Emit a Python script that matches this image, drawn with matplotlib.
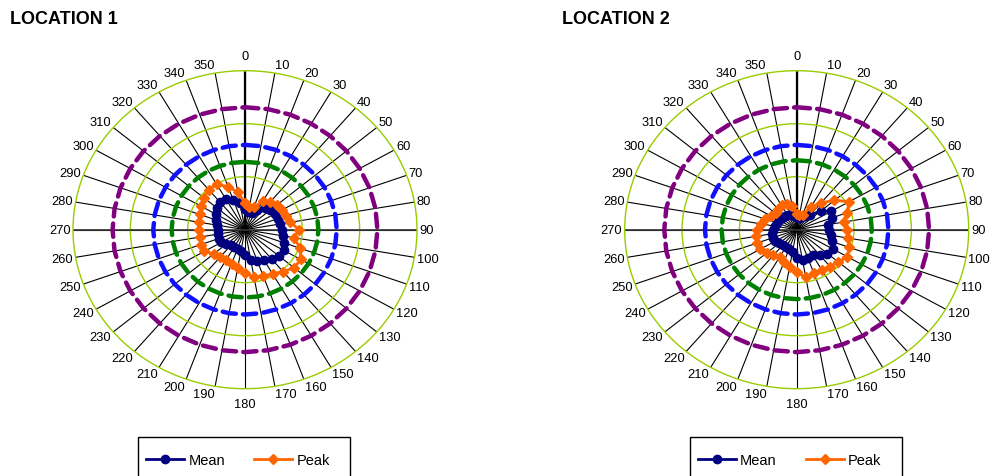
import numpy as np
import matplotlib
matplotlib.use("Agg")
import matplotlib.pyplot as plt
from matplotlib.lines import Line2D
from matplotlib.patches import Rectangle

plt.rcParams['font.family'] = ['Liberation Sans', 'DejaVu Sans']

# ---------------- data ----------------
angles_deg = list(range(0, 360, 10))
angle_labels = [str(a) for a in angles_deg]

titles = ["LOCATION 1", "LOCATION 2"]

mean_loc1 = [4.0, 3.3, 3.4, 4.3, 5.3, 5.8, 6.0, 6.1, 6.2, 6.4, 6.8, 7.3,
             7.8, 7.8, 7.2, 6.6, 6.2, 5.8, 4.7, 4.0, 3.8, 3.7, 3.8, 4.3,
             4.8, 4.9, 4.8, 4.7, 4.9, 5.3, 5.8, 6.4, 6.8, 6.6, 6.0, 5.2]
peak_loc1 = [5.0, 4.3, 4.5, 6.2, 6.8, 7.2, 7.5, 7.6, 8.0, 9.5, 8.6, 10.3,
             11.2, 11.2, 10.3, 9.6, 9.3, 9.1, 8.1, 7.4, 6.8, 6.5, 6.8, 7.1,
             8.2, 8.2, 8.0, 8.1, 8.2, 8.4, 8.9, 9.4, 9.8, 9.9, 8.6, 7.2]

mean_loc2 = [2.4, 2.3, 2.6, 3.0, 3.6, 5.5, 7.0, 6.6, 5.6, 5.7, 6.0, 6.5,
             7.4, 7.0, 6.2, 5.6, 5.6, 5.9, 5.3, 4.2, 3.8, 3.7, 3.8, 4.0,
             4.3, 4.4, 4.4, 4.2, 3.9, 3.6, 3.5, 3.4, 3.3, 3.2, 3.0, 2.7]
peak_loc2 = [3.0, 2.8, 3.0, 5.0, 6.6, 8.6, 10.6, 9.3, 8.3, 8.7, 9.0, 9.8,
             10.2, 9.4, 9.1, 8.8, 8.6, 9.1, 8.0, 7.2, 6.5, 6.0, 6.3, 6.8,
             7.4, 7.3, 7.2, 7.0, 6.3, 5.8, 5.2, 4.8, 5.0, 5.3, 5.2, 4.6]

# constant limit series (dashed rings)
limit_green = [12.8, 13.1]
limit_blue = [16.0, 16.0]
limit_purple = [23.1, 23.1]

r_max = 30
ring_ticks = [10, 20]

# ---------------- style ----------------
C_MEAN = '#000080'
C_PEAK = '#FF6600'
C_GREEN = '#008000'
C_BLUE = '#1010FF'
C_PURPLE = '#800080'
C_RING = '#99CC00'

W, H = 994, 477
fig = plt.figure(figsize=(W / 100, H / 100), dpi=100)

centers_x = [245.0, 796.7]
cy = 230.7
rx, ry = 172.0, 159.0

theta = np.deg2rad(angles_deg + [360])


def closed(v):
    return list(v) + [v[0]]


means = [mean_loc1, mean_loc2]
peaks = [peak_loc1, peak_loc2]
title_x = [10, 562]

for i in range(2):
    cx = centers_x[i]
    rect = [(cx - rx) / W, (H - (cy + ry)) / H, 2 * rx / W, 2 * ry / H]
    ax = fig.add_axes(rect, projection='polar')
    ax.set_aspect('auto')
    ax.set_theta_zero_location('N')
    ax.set_theta_direction(-1)
    ax.set_ylim(0, r_max)
    ax.set_yticks(ring_ticks)
    ax.set_yticklabels([])
    ax.set_thetagrids(angles_deg, labels=[''] * len(angles_deg))
    ax.tick_params(axis='x', length=0, pad=0)
    ax.xaxis.grid(True, color='black', linewidth=0.8)
    ax.yaxis.grid(True, color=C_RING, linewidth=1.0)
    ax.spines['polar'].set_color(C_RING)
    ax.spines['polar'].set_linewidth(1.0)
    ax.set_facecolor('white')
    # value axis on the 0 spoke, darker horizontal spoke
    ax.plot([0, 0], [0, r_max], color='black', linewidth=1.6, zorder=2)
    ax.plot([np.pi / 2, np.pi / 2], [0, r_max], color='#333333', linewidth=1.2, zorder=2)
    ax.plot([3 * np.pi / 2, 3 * np.pi / 2], [0, r_max], color='#333333', linewidth=1.2, zorder=2)

    # dashed limit series
    for vals, col in [(limit_purple, C_PURPLE), (limit_blue, C_BLUE), (limit_green, C_GREEN)]:
        ax.plot(theta, [vals[i]] * len(theta), color=col, linewidth=3.2,
                dashes=(3.0, 1.6), dash_capstyle='round', zorder=3)

    ax.plot(theta, closed(means[i]), color=C_MEAN, linewidth=2.0, marker='o',
            markersize=6, markeredgecolor=C_MEAN, markerfacecolor=C_MEAN, zorder=4)
    ax.plot(theta, closed(peaks[i]), color=C_PEAK, linewidth=2.0, marker='D',
            markersize=5.5, markeredgecolor=C_PEAK, markerfacecolor=C_PEAK, zorder=5)

    # angle labels outside the ring
    pad_px = 2.4
    half_h = 5.5
    for deg, lab in zip(angles_deg, angle_labels):
        th = np.deg2rad(deg)
        s, c = np.sin(th), np.cos(th)
        if abs(s) < 1e-6:
            ha = 'center'
            dx = 0.0
            dy = 15.0 * np.sign(c)
        else:
            ha = 'left' if s > 0 else 'right'
            dx = pad_px * s
            dy = (pad_px + half_h) * c
        ax.annotate(lab, xy=(th, r_max), xytext=(dx * 0.72, dy * 0.72),
                    textcoords='offset points', ha=ha, va='center',
                    fontsize=9.3, color='black', annotation_clip=False)

    fig.text(title_x[i] / W, 1 - 20 / H, titles[i], fontsize=13, fontweight='bold',
             ha='left', va='center')

    # legend (box cut by the bottom edge)
    lx0 = cx - 107
    box = Rectangle((lx0 / W, (H - 490) / H), 212 / W, 52 / H,
                    transform=fig.transFigure, facecolor='white',
                    edgecolor='black', linewidth=1.0, zorder=1, clip_on=False)
    fig.patches.append(box)
    handles = [Line2D([], [], color=C_MEAN, linewidth=2, marker='o', markersize=6),
               Line2D([], [], color=C_PEAK, linewidth=2, marker='D', markersize=5)]
    leg = fig.legend(handles, ['Mean', 'Peak'], loc='center',
                     bbox_to_anchor=((lx0 + 100) / W, (H - 461) / H),
                     ncol=2, frameon=False, fontsize=10.5, handlelength=2.6,
                     handletextpad=0.3, columnspacing=2.0)

fig.savefig('out.png', dpi=100)
